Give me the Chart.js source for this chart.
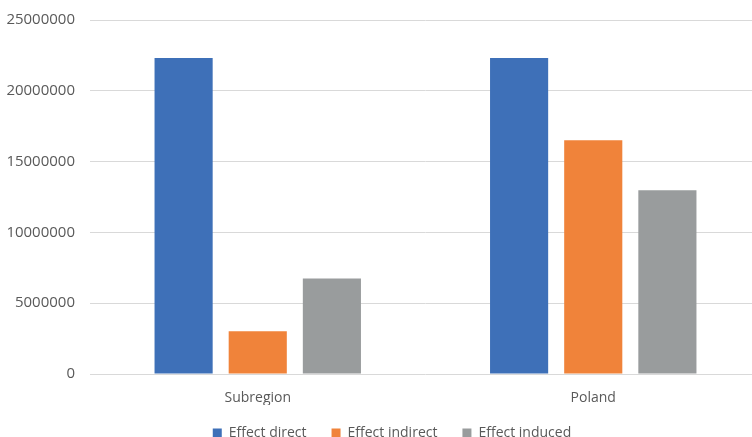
<!DOCTYPE html>
<html>
<head>
<meta charset="utf-8">
<script src="https://cdn.jsdelivr.net/npm/chart.js@4"></script>
<style>
  html, body { margin: 0; padding: 0; background: #fff; overflow: hidden; }
  #wrap { width: 784px; height: 437px; }
</style>
</head>
<body>
<div id="wrap"><canvas id="c" width="784" height="437"></canvas></div>
<script>
const categories = ["Subregion", "Poland"];
const seriesNames = ["Effect direct", "Effect indirect", "Effect induced"];
const effectDirect = [22310000, 22310000];
const effectIndirect = [3020000, 16510000];
const effectInduced = [6740000, 12980000];
const yTicks = [0, 5000000, 10000000, 15000000, 20000000, 25000000];
const colors = ["#3E70B8", "#F0833A", "#999C9D"];

const font = "'Open Sans', 'Liberation Sans', sans-serif";
const textColor = "#595959";

const legendShift = {
  id: "legendShift",
  afterLayout(chart) {
    const lg = chart.legend;
    if (!lg) return;
    lg.left += 11.5; lg.right += 11.5;
    lg.top -= 4; lg.bottom -= 4;
  }
};

new Chart(document.getElementById("c"), {
  type: "bar",
  data: {
    labels: categories,
    datasets: [effectDirect, effectIndirect, effectInduced].map((d, i) => ({
      label: seriesNames[i],
      data: d,
      backgroundColor: colors[i],
      borderWidth: 0,
      categoryPercentage: 0.663,
      barPercentage: 0.784
    }))
  },
  plugins: [legendShift],
  options: {
    responsive: false,
    animation: false,
    devicePixelRatio: 1,
    layout: { padding: { top: 20, right: 23, left: 0, bottom: -17 } },
    plugins: {
      tooltip: { enabled: false },
      legend: {
        position: "bottom",
        labels: {
          boxWidth: 9,
          boxHeight: 9,
          padding: 25,
          color: textColor,
          font: { family: font, size: 14 }
        }
      }
    },
    scales: {
      x: {
        grid: { display: false, drawTicks: false },
        border: { display: false },
        ticks: { color: textColor, font: { family: font, size: 14 }, padding: 16 },
        afterFit: s => { s.height = 31; }
      },
      y: {
        min: 0,
        max: 25000000,
        afterBuildTicks: s => { s.ticks = yTicks.map(v => ({ value: v })); },
        grid: { color: "#D9D9D9", lineWidth: 1, drawTicks: false },
        border: { display: false },
        ticks: {
          color: textColor,
          font: { family: font, size: 15 },
          padding: 15,
          callback: v => String(v)
        },
        afterFit: s => { s.width = 90; s.paddingTop = 0; s.paddingBottom = 0; }
      }
    }
  }
});
</script>
</body>
</html>
